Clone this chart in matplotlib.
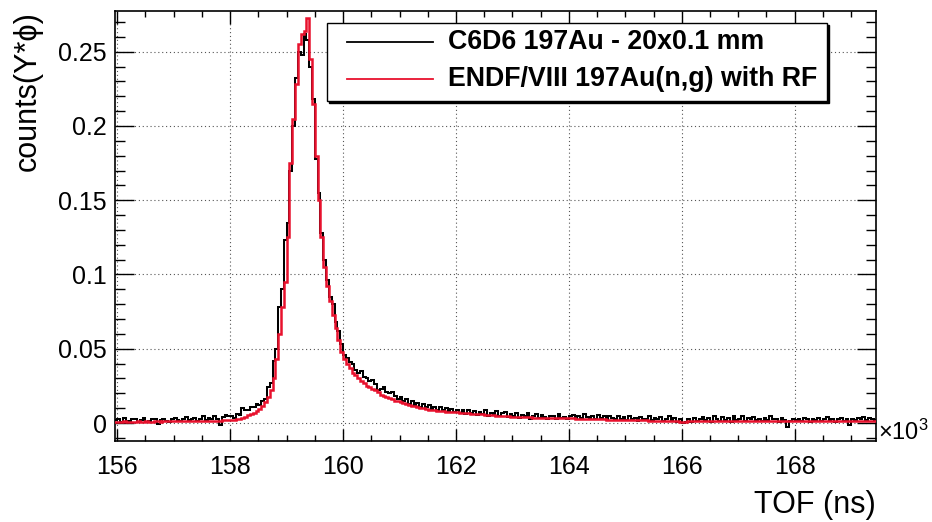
import numpy as np
import matplotlib
matplotlib.use("Agg")
import matplotlib.pyplot as plt
from matplotlib.patches import Rectangle
from matplotlib.lines import Line2D
from matplotlib.ticker import MultipleLocator, FormatStrFormatter

plt.rcParams['font.family'] = ['Liberation Sans', 'DejaVu Sans']
plt.rcParams['mathtext.fontset'] = 'custom'
plt.rcParams['mathtext.rm'] = 'Liberation Sans'
plt.rcParams['mathtext.it'] = 'Liberation Sans:italic'

# histogram binning (TOF in units of 10^3 ns)
tof_start = 155.95
bin_width = 0.05

# C6D6 197Au measurement, counts per bin
c6d6 = [
    0.0020, 0.0030, 0.0010, 0.0035, 0.0015, 0.0000, 0.0025, 0.0030, 0.0010, 0.0020,
    0.0035, 0.0005, 0.0015, 0.0030, 0.0025, -0.0005, 0.0020, 0.0030, 0.0015, 0.0010,
    0.0025, 0.0035, 0.0020, 0.0015, 0.0030, 0.0040, 0.0020, 0.0025, 0.0035, 0.0015,
    0.0030, 0.0045, 0.0020, 0.0035, 0.0030, 0.0050, 0.0025, -0.0010, 0.0040, 0.0055,
    0.0050, 0.0045, 0.0035, 0.0060, 0.0055, 0.0100, 0.0090, 0.0085, 0.0110, 0.0105,
    0.0125, 0.0120, 0.0150,
    0.0165, 0.024, 0.027, 0.042, 0.050, 0.078, 0.090, 0.123, 0.135, 0.170,
    0.200, 0.232, 0.250, 0.248, 0.262, 0.258, 0.240, 0.218, 0.178, 0.155,
    0.128, 0.110, 0.096, 0.085, 0.080, 0.068, 0.062, 0.053, 0.046, 0.044,
    0.041, 0.040, 0.036, 0.034, 0.035, 0.031, 0.030, 0.028, 0.029, 0.026,
    0.022, 0.023, 0.024, 0.021, 0.020, 0.021, 0.018, 0.016,
    0.0175, 0.0150, 0.0160, 0.0130, 0.0145, 0.0120, 0.0135, 0.0110, 0.0125, 0.0105,
    0.0120, 0.0095, 0.0110, 0.0090, 0.0105, 0.0085, 0.0100, 0.0080, 0.0095, 0.0075,
    0.0090, 0.0070, 0.0085, 0.0060, 0.0090, 0.0065, 0.0080, 0.0055, 0.0075, 0.0060,
    0.0085, 0.0050, 0.0070, 0.0055, 0.0080, 0.0045, 0.0065, 0.0075, 0.0040, 0.0060,
    0.0050, 0.0070, 0.0035, 0.0055, 0.0045, 0.0065, 0.0030, 0.0050, 0.0060, 0.0035,
    0.0055, 0.0040, 0.0025, 0.0050, 0.0045, 0.0030, 0.0060, 0.0035, 0.0040, 0.0025,
    0.0045, 0.0055, 0.0030, 0.0050, 0.0035, 0.0060, 0.0040, 0.0025, 0.0050, 0.0030,
    0.0055, 0.0035, 0.0045, 0.0020, 0.0050, 0.0035, 0.0025, 0.0045, 0.0030, 0.0040,
    0.0020, 0.0045, 0.0030, 0.0035, 0.0015, 0.0040, 0.0025, 0.0030, 0.0045, 0.0020,
    0.0035, 0.0025, 0.0040, 0.0015, 0.0030, 0.0045, 0.0020, 0.0035, 0.0010, 0.0030,
    0.0000, 0.0005, 0.0025, 0.0010, 0.0035, 0.0015, 0.0030, 0.0040, 0.0020, 0.0035,
    0.0010, 0.0045, 0.0025, 0.0015, 0.0040, 0.0020, 0.0035, 0.0005, 0.0050, 0.0020,
    0.0030, 0.0045, 0.0015, 0.0035, 0.0025, 0.0040, 0.0020, 0.0030, 0.0015, 0.0035,
    0.0020, 0.0045, 0.0025, 0.0030, 0.0010, 0.0035, 0.0020, -0.0030, 0.0015, 0.0025,
    0.0020, 0.0030, 0.0015, 0.0035, 0.0025, 0.0010, 0.0030, 0.0020, 0.0035, 0.0015,
    0.0025, 0.0040, 0.0020, 0.0030, 0.0010, 0.0025, 0.0035, 0.0015, 0.0030, -0.0010,
    0.0025, 0.0020, 0.0035, 0.0030, 0.0040, 0.0020, 0.0035, 0.0030, 0.0020,
]

# ENDF/VIII 197Au(n,g) with resolution function
endf = [
    0.0010, 0.0009, 0.0010, 0.0011, 0.0010, 0.0009, 0.0010, 0.0010, 0.0011, 0.0010,
    0.0010, 0.0011, 0.0010, 0.0010, 0.0011, 0.0011, 0.0010, 0.0011, 0.0011, 0.0012,
    0.0011, 0.0012, 0.0012, 0.0011, 0.0012, 0.0013, 0.0012, 0.0013, 0.0013, 0.0014,
    0.0013, 0.0014, 0.0014, 0.0015, 0.0015, 0.0016, 0.0016, 0.0017, 0.0018, 0.0019,
    0.0020,
    0.0021, 0.0023, 0.0026, 0.0030, 0.0036, 0.0043, 0.0051, 0.0060, 0.0070, 0.0082,
    0.0097, 0.0116,
    0.0140, 0.0175, 0.0225, 0.030, 0.043, 0.060, 0.078, 0.095, 0.125, 0.175,
    0.205, 0.228, 0.255, 0.262, 0.264, 0.273, 0.245, 0.215, 0.180, 0.150,
    0.125, 0.105, 0.092, 0.082, 0.073, 0.064, 0.056, 0.048, 0.043, 0.040,
    0.037, 0.034, 0.032, 0.030, 0.028, 0.027, 0.025, 0.024, 0.023, 0.022,
    0.021, 0.019, 0.018, 0.0175, 0.017, 0.016, 0.015, 0.0145,
    0.0140, 0.0135, 0.0128, 0.0122, 0.0118, 0.0112, 0.0108, 0.0103, 0.0098, 0.0093,
    0.0090, 0.0087, 0.0085, 0.0082, 0.0080, 0.0079, 0.0077, 0.0076, 0.0074, 0.0073,
    0.0072, 0.0070, 0.0069, 0.0067, 0.0065, 0.0064, 0.0062, 0.0061, 0.0059, 0.0058,
    0.0056, 0.0055, 0.0054, 0.0052, 0.0050, 0.0049, 0.0047, 0.0046, 0.0044, 0.0043,
    0.0042, 0.0041, 0.0040, 0.0040, 0.0039, 0.0038, 0.0038, 0.0037, 0.0037, 0.0036,
    0.0036, 0.0035, 0.0035, 0.0035, 0.0034, 0.0034, 0.0034, 0.0033, 0.0034, 0.0033,
    0.0032, 0.0031, 0.0030, 0.0030, 0.0029, 0.0028, 0.0028, 0.0027, 0.0026, 0.0026,
    0.0025, 0.0024, 0.0024, 0.0023, 0.0023, 0.0022, 0.0022, 0.0021, 0.0021, 0.0021,
    0.0020, 0.0020, 0.0019, 0.0019, 0.0019, 0.0018, 0.0018, 0.0018, 0.0017, 0.0017,
    0.0017, 0.0016, 0.0016, 0.0016, 0.0016, 0.0015, 0.0015, 0.0014, 0.0012, 0.0010,
    0.0008, 0.0009, 0.0011, 0.0013, 0.0015, 0.0016, 0.0015, 0.0016, 0.0015, 0.0014,
    0.0015, 0.0016, 0.0015, 0.0015, 0.0016, 0.0015, 0.0014, 0.0015, 0.0016, 0.0015,
    0.0015, 0.0016, 0.0015, 0.0014, 0.0015, 0.0015, 0.0016, 0.0015, 0.0014, 0.0015,
    0.0015, 0.0016, 0.0015, 0.0015, 0.0014, 0.0015, 0.0016, 0.0015, 0.0015, 0.0014,
    0.0015, 0.0016, 0.0015, 0.0015, 0.0014, 0.0015, 0.0016, 0.0015, 0.0015, 0.0014,
    0.0015, 0.0015, 0.0016, 0.0015, 0.0014, 0.0015, 0.0015, 0.0016, 0.0015, 0.0015,
    0.0014, 0.0015, 0.0016, 0.0015, 0.0015, 0.0014, 0.0015, 0.0016, 0.0015,
]

labels = ["C6D6 197Au - 20x0.1 mm", "ENDF/VIII 197Au(n,g) with RF"]
black = "#000000"
red = "#e8112d"

assert len(c6d6) == len(endf), (len(c6d6), len(endf))
edges = tof_start + bin_width * np.arange(len(c6d6) + 1)

fig = plt.figure(figsize=(9.32, 5.22), dpi=100)
ax = fig.add_axes([115 / 932, 1 - 441 / 522, 761 / 932, 430 / 522])

ax.stairs(c6d6, edges, baseline=None, color=black, lw=1.45, zorder=3)
ax.stairs(endf, edges, baseline=None, color=red, lw=1.8, zorder=4)

ax.set_xlim(155.96, 169.44)
ax.set_ylim(-0.0121, 0.2774)

ax.xaxis.set_major_locator(MultipleLocator(2))
ax.xaxis.set_minor_locator(MultipleLocator(0.5))
ax.yaxis.set_major_locator(MultipleLocator(0.05))
ax.yaxis.set_minor_locator(MultipleLocator(0.01))
ax.xaxis.set_major_formatter(FormatStrFormatter('%g'))
ax.yaxis.set_major_formatter(FormatStrFormatter('%g'))

ax.tick_params(axis='both', which='both', direction='in', top=True, right=True,
               width=1.0, colors='black', labelsize=18)
ax.tick_params(axis='x', which='major', length=9, pad=10)
ax.tick_params(axis='x', which='minor', length=4.5)
ax.tick_params(axis='y', which='major', length=14, pad=6)
ax.tick_params(axis='y', which='minor', length=7)
for s in ax.spines.values():
    s.set_linewidth(1.2)

ax.grid(True, which='major', color='#555555', lw=0.8, linestyle=(0, (1, 2.5)))
ax.set_axisbelow(True)

ax.text(1.002, 0.021, '×10$^{3}$', transform=ax.transAxes, fontsize=17,
        ha='left', va='center')
ax.text(1.0, -0.149, 'TOF (ns)', transform=ax.transAxes, fontsize=22,
        ha='right', va='center')
ax.text(-0.114, 1.0, 'counts(Y*ϕ)', transform=ax.transAxes, fontsize=22,
        rotation=90, ha='center', va='top')

# legend box with ROOT-style shadow
bx0, bx1, by0, by1 = 0.2786, 0.9356, 0.7907, 0.972
ax.add_patch(Rectangle((bx0 + 0.003, by0 - 0.005), bx1 - bx0, by1 - by0,
                       transform=ax.transAxes, facecolor='black', edgecolor='black',
                       zorder=9, clip_on=False))
ax.add_patch(Rectangle((bx0, by0), bx1 - bx0, by1 - by0, transform=ax.transAxes,
                       facecolor='white', edgecolor='black', lw=1.0, zorder=10,
                       clip_on=False))
for yy, lab, col in zip([0.9286, 0.8412], labels, [black, red]):
    ax.add_line(Line2D([0.305, 0.418], [yy, yy], transform=ax.transAxes, color=col,
                       lw=1.3, zorder=11))
    ax.text(0.4376, yy, lab, transform=ax.transAxes, fontsize=19.3, fontweight='bold',
            ha='left', va='center', zorder=11)

fig.savefig('out.png', dpi=100)
